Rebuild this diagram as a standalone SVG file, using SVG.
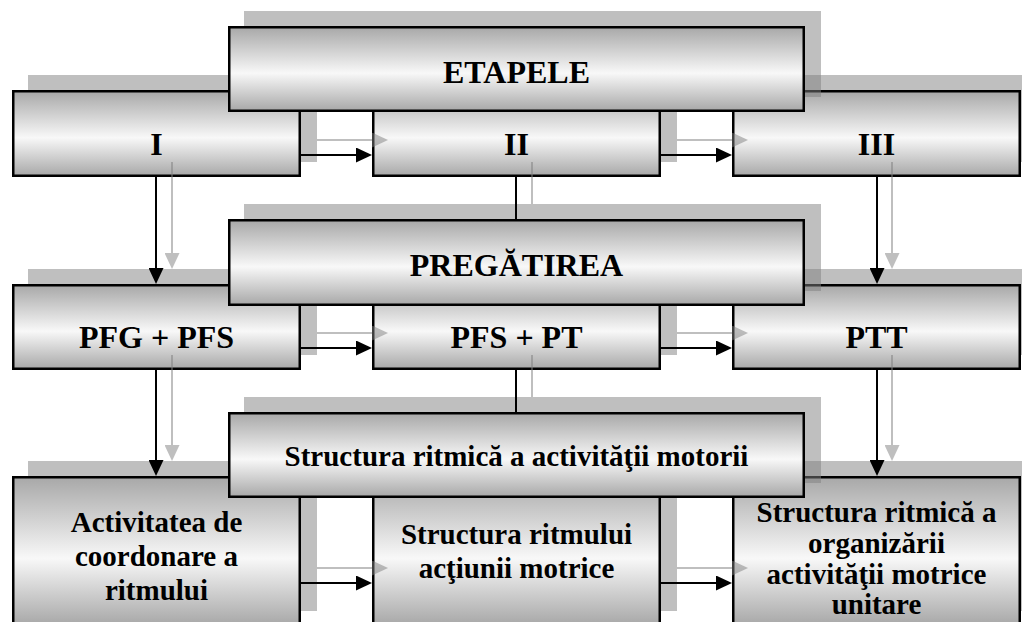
<svg xmlns="http://www.w3.org/2000/svg" width="1022" height="622" viewBox="0 0 1022 622">
<defs>
<linearGradient id="g" x1="0" y1="0" x2="0" y2="1">
<stop offset="0" stop-color="#a8a8a8"/>
<stop offset="0.55" stop-color="#f8f8f8"/>
<stop offset="1" stop-color="#a8a8a8"/>
</linearGradient>
<marker id="ah" markerUnits="userSpaceOnUse" markerWidth="16" markerHeight="15" refX="8" refY="7.5" orient="auto">
<path d="M0,0 L16,7.5 L0,15 Z" fill="#000"/>
</marker>
<marker id="ahs" markerUnits="userSpaceOnUse" markerWidth="16" markerHeight="15" refX="8" refY="7.5" orient="auto">
<path d="M0,0 L16,7.5 L0,15 Z" fill="#808080"/>
</marker>
</defs>
<style>
.sh{fill:#808080;opacity:0.5}
.bx{fill:url(#g);stroke:#000;stroke-width:2.5}
.t{font-weight:bold;font-size:32px;text-anchor:middle;fill:#000}
.s{font-size:29px}
.c{stroke:#000;stroke-width:2;fill:none}
.cs{stroke:#808080;stroke-width:2;fill:none}
</style>
<rect width="1022" height="622" fill="#fff"/>

<g font-family="'Liberation Serif', 'Times New Roman', serif">
<g id="node-I">
<rect class="sh" x="28" y="75" width="289" height="87"/>
<rect class="bx" x="13.25" y="91.25" width="286.5" height="84.5"/>
<text class="t" x="156.5" y="155">I</text>
</g>
<g id="node-II">
<rect class="sh" x="388" y="75" width="289" height="87"/>
<rect class="bx" x="373.25" y="91.25" width="286.5" height="84.5"/>
<text class="t" x="516.5" y="155">II</text>
</g>
<g id="node-III">
<rect class="sh" x="748" y="75" width="289" height="87"/>
<rect class="bx" x="733.25" y="91.25" width="286.5" height="84.5"/>
<text class="t" x="876.5" y="155">III</text>
</g>
<g id="node-ETAPELE">
<rect class="sh" x="244" y="11" width="577" height="86"/>
<rect class="bx" x="229.25" y="27.25" width="574.5" height="83.5"/>
<text class="t" x="516.5" y="83">ETAPELE</text>
</g>

<g id="node-PFG-PFS">
<rect class="sh" x="28" y="269" width="289" height="86"/>
<rect class="bx" x="13.25" y="285.25" width="286.5" height="83.5"/>
<text class="t" x="156.5" y="348">PFG + PFS</text>
</g>
<g id="node-PFS-PT">
<rect class="sh" x="388" y="269" width="289" height="86"/>
<rect class="bx" x="373.25" y="285.25" width="286.5" height="83.5"/>
<text class="t" x="516.5" y="348">PFS + PT</text>
</g>
<g id="node-PTT">
<rect class="sh" x="748" y="269" width="289" height="86"/>
<rect class="bx" x="733.25" y="285.25" width="286.5" height="83.5"/>
<text class="t" x="876.5" y="348">PTT</text>
</g>
<g id="node-PREGATIREA">
<rect class="sh" x="244" y="204" width="577" height="87"/>
<rect class="bx" x="229.25" y="220.25" width="574.5" height="84.5"/>
<text class="t" x="516.5" y="276">PREGĂTIREA</text>
</g>

<g id="node-activitatea">
<rect class="sh" x="28" y="461" width="289" height="150"/>
<rect class="bx" x="13.25" y="477.25" width="286.5" height="147.5"/>
<text class="t s" x="156.5" y="532">Activitatea de</text>
<text class="t s" x="156.5" y="566">coordonare a</text>
<text class="t s" x="156.5" y="600">ritmului</text>
</g>
<g id="node-structura-ritmului">
<rect class="sh" x="388" y="461" width="289" height="150"/>
<rect class="bx" x="373.25" y="477.25" width="286.5" height="147.5"/>
<text class="t s" x="516.5" y="544">Structura ritmului</text>
<text class="t s" x="516.5" y="578">acţiunii motrice</text>
</g>
<g id="node-structura-organizarii">
<rect class="sh" x="748" y="461" width="289" height="150"/>
<rect class="bx" x="733.25" y="477.25" width="286.5" height="147.5"/>
<text class="t s" x="876.5" y="522">Structura ritmică a</text>
<text class="t s" x="876.5" y="553">organizării</text>
<text class="t s" x="876.5" y="584">activităţii motrice</text>
<text class="t s" x="876.5" y="614">unitare</text>
</g>
<g id="node-structura-motorii">
<rect class="sh" x="244" y="397" width="577" height="86"/>
<rect class="bx" x="229.25" y="413.25" width="574.5" height="83.5"/>
<text class="t s" x="516.5" y="466">Structura ritmică a activităţii motorii</text>
</g>
</g>

<g id="connectors">
<g id="connector-shadows" opacity="0.5">
<line class="cs" x1="317" y1="140" x2="380" y2="140" marker-end="url(#ahs)"/>
<line class="cs" x1="677" y1="140" x2="740" y2="140" marker-end="url(#ahs)"/>
<line class="cs" x1="317" y1="333" x2="380" y2="333" marker-end="url(#ahs)"/>
<line class="cs" x1="677" y1="333" x2="740" y2="333" marker-end="url(#ahs)"/>
<line class="cs" x1="317" y1="568" x2="380" y2="568" marker-end="url(#ahs)"/>
<line class="cs" x1="677" y1="568" x2="740" y2="568" marker-end="url(#ahs)"/>
<line class="cs" x1="172" y1="162" x2="172" y2="261" marker-end="url(#ahs)"/>
<line class="cs" x1="892" y1="162" x2="892" y2="261" marker-end="url(#ahs)"/>
<line class="cs" x1="172" y1="355" x2="172" y2="453" marker-end="url(#ahs)"/>
<line class="cs" x1="892" y1="355" x2="892" y2="453" marker-end="url(#ahs)"/>
<line class="cs" x1="532" y1="162" x2="532" y2="204"/>
<line class="cs" x1="532" y1="355" x2="532" y2="397"/>
</g>
<line class="c" x1="301" y1="155" x2="364" y2="155" marker-end="url(#ah)"/>
<line class="c" x1="661" y1="155" x2="724" y2="155" marker-end="url(#ah)"/>
<line class="c" x1="301" y1="348" x2="364" y2="348" marker-end="url(#ah)"/>
<line class="c" x1="661" y1="348" x2="724" y2="348" marker-end="url(#ah)"/>
<line class="c" x1="301" y1="583" x2="364" y2="583" marker-end="url(#ah)"/>
<line class="c" x1="661" y1="583" x2="724" y2="583" marker-end="url(#ah)"/>
<line class="c" x1="156" y1="177" x2="156" y2="276" marker-end="url(#ah)"/>
<line class="c" x1="877" y1="177" x2="877" y2="276" marker-end="url(#ah)"/>
<line class="c" x1="156" y1="370" x2="156" y2="468" marker-end="url(#ah)"/>
<line class="c" x1="877" y1="370" x2="877" y2="468" marker-end="url(#ah)"/>
<line class="c" x1="516" y1="177" x2="516" y2="219"/>
<line class="c" x1="516" y1="370" x2="516" y2="412"/>
</g>
</svg>
